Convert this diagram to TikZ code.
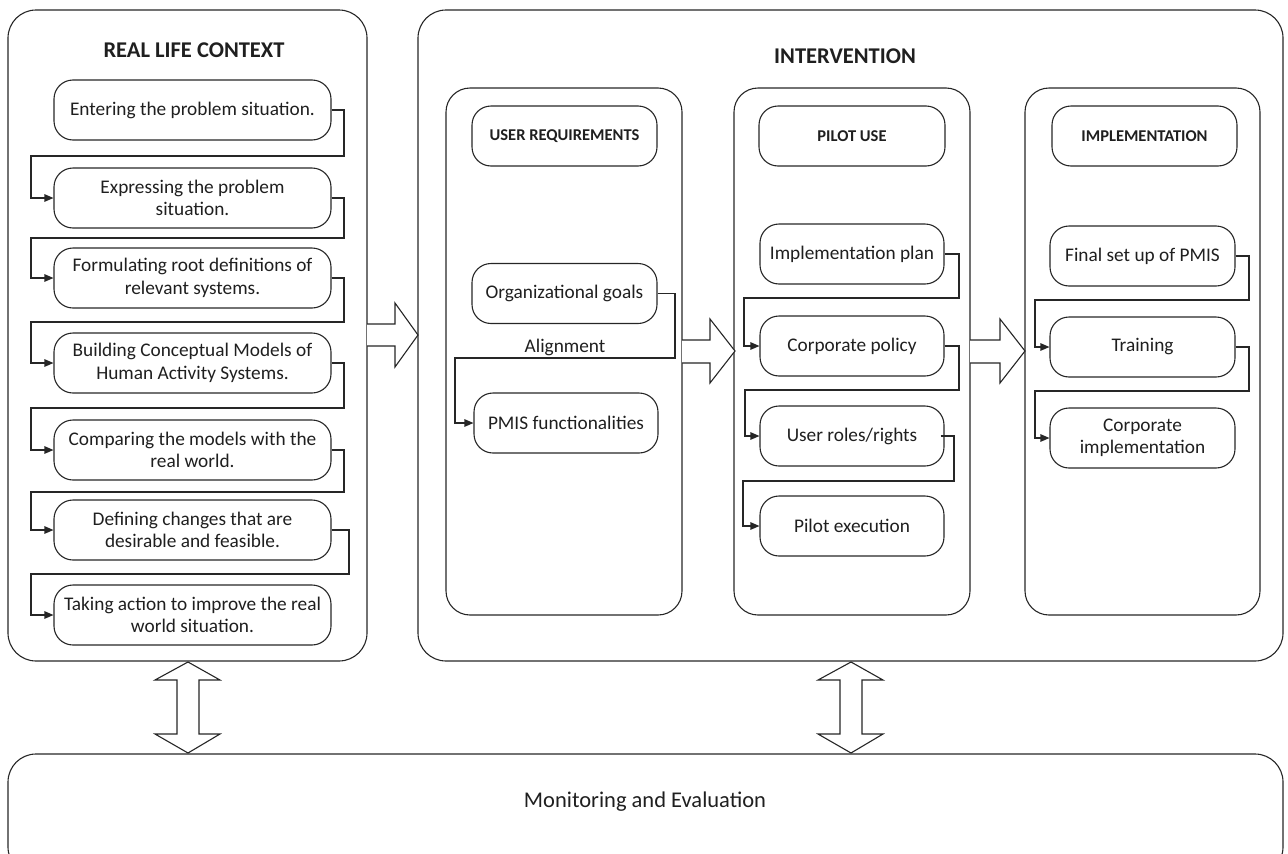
\documentclass[tikz,border=0pt]{standalone}
\usepackage{fontspec}
\setmainfont{Carlito}
\usetikzlibrary{arrows.meta}
\begin{document}
\begin{tikzpicture}[x=1pt,y=-1pt,
  lc/.style={draw=black!85, line width=1.1pt},
  bigbox/.style={lc, rounded corners=28pt, inner sep=0pt},
  panel/.style={lc, rounded corners=24pt, inner sep=0pt},
  stepbox/.style={lc, rounded corners=19pt, inner sep=0pt, align=center,
    text=black!88, font=\fontsize{19.3}{22.5}\selectfont, minimum height=60pt},
  headbox/.style={lc, rounded corners=19pt, inner sep=0pt, align=center,
    text=black!88, font=\bfseries\fontsize{16.5}{19}\selectfont, minimum height=60pt},
  titletext/.style={text=black!88, font=\bfseries\fontsize{22.5}{26}\selectfont, inner sep=0pt},
  conn/.style={lc, -{Triangle[length=9pt,width=7.5pt]}},
  blockarrow/.style={lc, line join=miter, fill=white}
]
\useasboundingbox (0,0) rectangle (1288,854);
\clip (0,0) rectangle (1288,854);

% outer containers
\node[bigbox, minimum width=359pt, minimum height=651pt] (rlc) at (187.5,335.5) {};
\node[bigbox, minimum width=865pt, minimum height=651pt] (int) at (850.5,335.5) {};
\node[bigbox, minimum width=1275pt, minimum height=121pt] (mon) at (645.5,814.5) {};

\node[titletext] (rlct) at (194,50) {REAL LIFE CONTEXT};
\node[titletext] (intt) at (845,56) {INTERVENTION};
\node[text=black!88, font=\fontsize{22.5}{26}\selectfont, inner sep=0pt, anchor=base] (mont) at (645,807) {Monitoring and Evaluation};

% panels
\node[panel, minimum width=236pt, minimum height=527pt] (pur) at (564,351.5) {};
\node[panel, minimum width=236pt, minimum height=527pt] (ppu) at (852,351.5) {};
\node[panel, minimum width=235pt, minimum height=527pt] (pim) at (1142.5,351.5) {};

\node[headbox, minimum width=185pt] (hur) at (564.5,136) {USER REQUIREMENTS};
\node[headbox, minimum width=186pt] (hpu) at (852,136) {PILOT USE};
\node[headbox, minimum width=185pt] (him) at (1144.5,136) {IMPLEMENTATION};

% left column steps
\node[stepbox, minimum width=277pt] (b1) at (192.5,110) {Entering the problem situation.};
\node[stepbox, minimum width=277pt] (b2) at (192.5,198) {Expressing the problem\\situation.};
\node[stepbox, minimum width=277pt] (b3) at (192.5,278) {Formulating root definitions of\\relevant systems.};
\node[stepbox, minimum width=277pt] (b4) at (192.5,363) {Building Conceptual Models of\\Human Activity Systems.};
\node[stepbox, minimum width=277pt] (b5) at (192.5,450) {Comparing the models with the\\real world.};
\node[stepbox, minimum width=277pt] (b6) at (192.5,530) {Defining changes that are\\desirable and feasible.};
\node[stepbox, minimum width=277pt] (b7) at (192.5,615) {Taking action to improve the real\\world situation.};

\draw[conn] (b1.east) -| (344,156) -- (31,156) |- (b2.west);
\draw[conn] (b2.east) -| (344,238) -- (31,238) |- (b3.west);
\draw[conn] (b3.east) -| (344,322) -- (31,322) |- (b4.west);
\draw[conn] (b4.east) -| (344,408) -- (31,408) |- (b5.west);
\draw[conn] (b5.east) -| (344,492) -- (31,492) |- (b6.west);
\draw[conn] (b6.east) -| (349,574) -- (31,574) |- (b7.west);

% user requirements
\node[stepbox, minimum width=185pt] (og) at (564.5,293.5) {Organizational goals};
\node[stepbox, minimum width=184pt] (pf) at (566,423) {PMIS functionalities};
\draw[conn] (og.east) -| (675,358) -- node[above=2pt, pos=0.5, text=black!88, font=\fontsize{19.3}{22.5}\selectfont, inner sep=0pt] (al) {Alignment} (455,358) |- (pf.west);

% pilot use
\node[stepbox, minimum width=184pt] (ip) at (852,254) {Implementation plan};
\node[stepbox, minimum width=184pt] (cp) at (852,346) {Corporate policy};
\node[stepbox, minimum width=184pt] (ur) at (852,436) {User roles/rights};
\node[stepbox, minimum width=184pt] (pe) at (852,526) {Pilot execution};
\draw[conn] (ip.east) -| (959,298) -- (744,298) |- (cp.west);
\draw[conn] (cp.east) -| (959,390) -- (745,390) |- (ur.west);
\draw[conn] ([xshift=-4pt]ur.east) -| (954,481) -- (743,481) |- (pe.west);

% implementation
\node[stepbox, minimum width=185pt] (fs) at (1142.5,256) {Final set up of PMIS};
\node[stepbox, minimum width=185pt] (tr) at (1142.5,347) {Training};
\node[stepbox, minimum width=185pt] (ci) at (1142.5,438) {Corporate\\implementation};
\draw[conn] (fs.east) -| (1249,300) -- (1035,300) |- (tr.west);
\draw[conn] (tr.east) -| (1249,391) -- (1035,391) |- (ci.west);

% block arrows
\draw[blockarrow] (367,324) -- (395,324) -- (395,303) -- (418,335) -- (395,367) -- (395,346) -- (367,346);
\draw[blockarrow] (682,340) -- (710,340) -- (710,319) -- (735,351) -- (710,383) -- (710,363) -- (682,363);
\draw[blockarrow] (970,340) -- (1000,340) -- (1000,319) -- (1025,351) -- (1000,383) -- (1000,363) -- (970,363);

\draw[blockarrow] (188,662) -- (220,680) -- (199,680) -- (199,734) -- (220,734) -- (188,753) -- (155,734) -- (177,734) -- (177,680) -- (155,680) -- cycle;
\draw[blockarrow] (851,662) -- (883,680) -- (862,680) -- (862,734) -- (883,734) -- (851,753) -- (818,734) -- (840,734) -- (840,680) -- (818,680) -- cycle;
\end{tikzpicture}
\end{document}
